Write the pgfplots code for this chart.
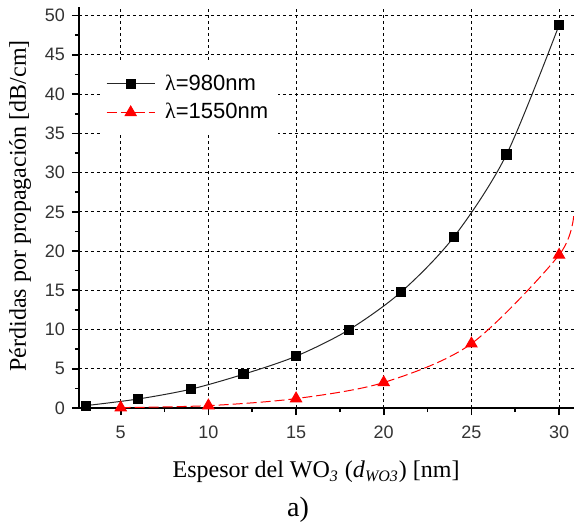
\documentclass[border=0pt]{standalone}
\usepackage{fontspec}
\setmainfont{Liberation Serif}
\setsansfont{Liberation Sans}
\usepackage{pgfplots}
\pgfplotsset{compat=1.18}
\begin{document}
\begin{tikzpicture}
\begin{axis}[
  name=ax,
  scale only axis, width=247.5pt, height=200.5pt,
  xmin=2.62, xmax=30.85, ymin=0, ymax=51.1,
  axis lines=left,
  axis line style={-, line width=1pt},
  every outer x axis line/.append style={-},
  every outer y axis line/.append style={-},
  xtick={5,10,...,30}, ytick={0,5,...,50},
  minor x tick num=1, minor y tick num=1,
  tick align=outside, major tick length=3.5pt, minor tick length=2pt,
  tick style={black, line width=0.8pt},
  grid=major,
  major grid style={black, line width=0.4pt, dash pattern=on 1.5pt off 1.5pt},
  ticklabel style={font=\sffamily\fontsize{9}{10}\selectfont, text=black!80},
  xticklabel style={yshift=-2pt},
  /pgf/number format/assume math mode=true,
  xlabel={Espesor del WO\textsubscript{\textit{3}} (\textit{d}\textsubscript{\textit{WO3}}) [nm]},
  ylabel={Pérdidas por propagación [dB/cm]},
  label style={font=\fontsize{12}{14}\selectfont},
  xlabel style={at={(axis description cs:0.479,-0.16)}, anchor=center},
  ylabel style={at={(axis description cs:-0.119,0.504)}, anchor=center},
  legend style={at={(axis description cs:0.042,0.862)}, anchor=north west,
    draw=none, fill=white, font=\sffamily\fontsize{11}{13}\selectfont,
    row sep=1pt, inner xsep=3pt, inner ysep=4pt,
    /tikz/every odd column/.append style={column sep=3pt}},
  legend cell align=left,
  legend image code/.code={%
    \draw[#1, mark=none] (0pt,0pt) -- (24pt,0pt);
    \draw[#1, only marks] plot coordinates {(12pt,0pt)};},
]
\addplot[black!85, line width=0.5pt, smooth, mark=square*, mark size=2.3pt,
  mark options={solid, fill=black, draw=black}]
  coordinates {(3,0.3) (6,1.15) (9,2.4) (12,4.3) (15,6.6) (18,9.95) (21,14.8) (24,21.8) (27,32.3) (30,48.8)};
\addlegendentry{{\rmfamily λ}=980nm}
\addplot[red, line width=0.5pt, smooth, dash pattern=on 5pt off 2pt, mark=triangle*, mark size=3.2pt,
  mark options={solid, fill=red, draw=red}, mark indices={1,2,3,4,5,6}]
  coordinates {(5,0.05) (10,0.3) (15,1.2) (20,3.25) (25,8.2) (30,19.5) (30.85,24.9)};
\addlegendentry{{\rmfamily λ}=1550nm}
\end{axis}
\node[font=\fontsize{14}{16}\selectfont] at ([xshift=109.5pt, yshift=-51pt]ax.south west) {a)};
\pgfresetboundingbox
\path[use as bounding box] ([xshift=-39.5pt, yshift=-58.5pt]ax.south west) rectangle ++(287pt,262.5pt);
\end{tikzpicture}
\end{document}
